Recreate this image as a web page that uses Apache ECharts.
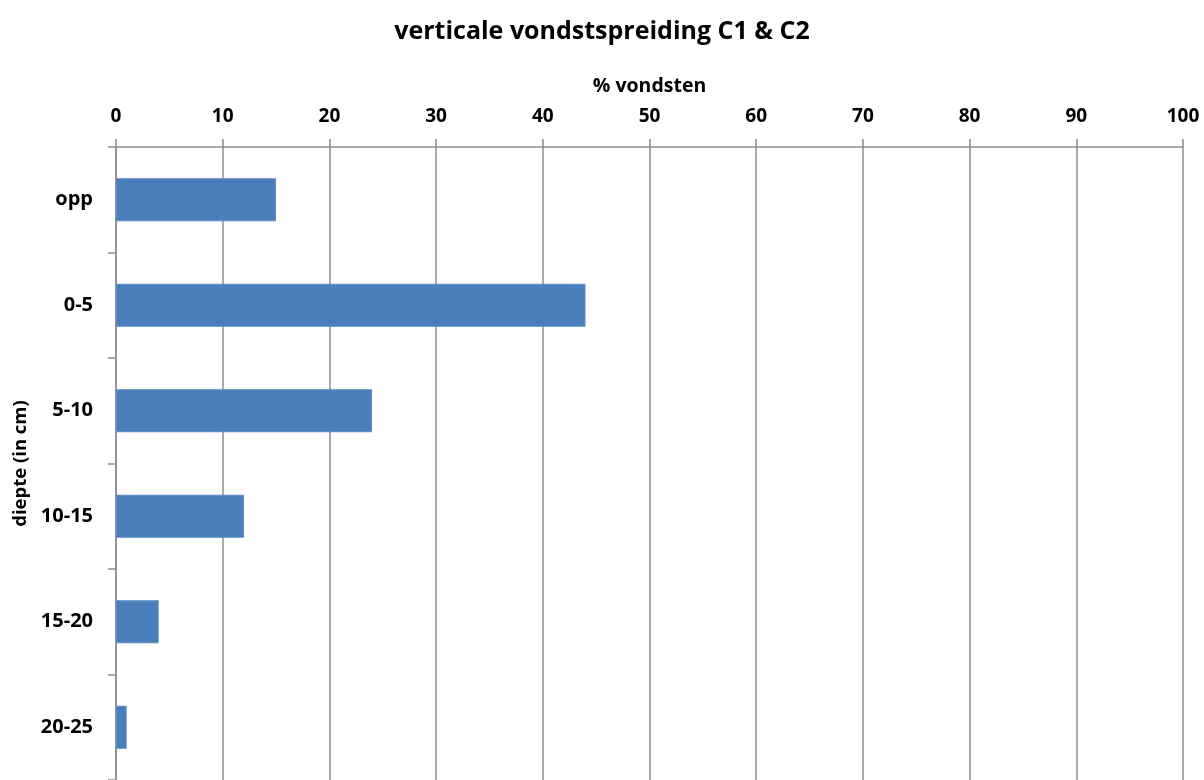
<!DOCTYPE html>
<html>
<head>
<meta charset="utf-8">
<script src="https://cdn.jsdelivr.net/npm/echarts@6/dist/echarts.min.js"></script>
<style>
  html, body { margin: 0; padding: 0; background: #fff; }
  #chart { width: 1204px; height: 780px; }
</style>
</head>
<body>
<div id="chart"></div>
<script>
// Depth classes (top to bottom) and share of finds per class
const depthClasses = ['opp', '0-5', '5-10', '10-15', '15-20', '20-25'];
const findShares = [15, 44, 24, 12, 4, 1];
const percentTicks = [0, 10, 20, 30, 40, 50, 60, 70, 80, 90, 100];

const FONT = '"Open Sans", "Liberation Sans", sans-serif';
const GRID_COLOR = '#8c8c94';

const chart = echarts.init(document.getElementById('chart'), null, { renderer: 'canvas' });

chart.setOption({
  animation: false,
  backgroundColor: '#ffffff',
  title: {
    text: 'verticale vondstspreiding C1 & C2',
    left: 'center',
    top: 14,
    textStyle: { fontFamily: FONT, fontSize: 25, fontWeight: 'bold', color: '#000' }
  },
  grid: {
    left: 116,
    top: 147,
    width: 1067,
    height: 636
  },
  xAxis: {
    type: 'value',
    position: 'top',
    min: percentTicks[0],
    max: percentTicks[percentTicks.length - 1],
    interval: 10,
    name: '% vondsten',
    nameLocation: 'middle',
    nameGap: 51,
    nameTextStyle: { fontFamily: FONT, fontSize: 19.5, fontWeight: 'bold', color: '#000' },
    axisLine: { show: true, lineStyle: { color: GRID_COLOR, width: 1.5 } },
    axisTick: { show: true, length: 8, inside: false, lineStyle: { color: GRID_COLOR, width: 1.5 } },
    axisLabel: {
      margin: 21,
      fontFamily: FONT, fontSize: 19, fontWeight: 'bold', color: '#000'
    },
    splitLine: { show: true, lineStyle: { color: GRID_COLOR, width: 1.5 } }
  },
  yAxis: {
    type: 'category',
    data: depthClasses,
    inverse: true,
    name: 'diepte (in cm)',
    nameLocation: 'middle',
    nameGap: 81,
    nameRotate: 90,
    nameTextStyle: { fontFamily: FONT, fontSize: 18.5, fontWeight: 'bold', color: '#000' },
    axisLine: { show: true, lineStyle: { color: GRID_COLOR, width: 1.5 } },
    axisTick: { show: true, length: 8, lineStyle: { color: GRID_COLOR, width: 1.5 } },
    axisLabel: {
      margin: 23,
      fontFamily: FONT, fontSize: 20, fontWeight: 'bold', color: '#000'
    },
    splitLine: { show: false }
  },
  series: [{
    type: 'bar',
    data: findShares,
    barWidth: 43,
    itemStyle: { color: '#4a7ebb', borderColor: '#5b8cc6', borderWidth: 1 }
  }]
});
</script>
</body>
</html>
